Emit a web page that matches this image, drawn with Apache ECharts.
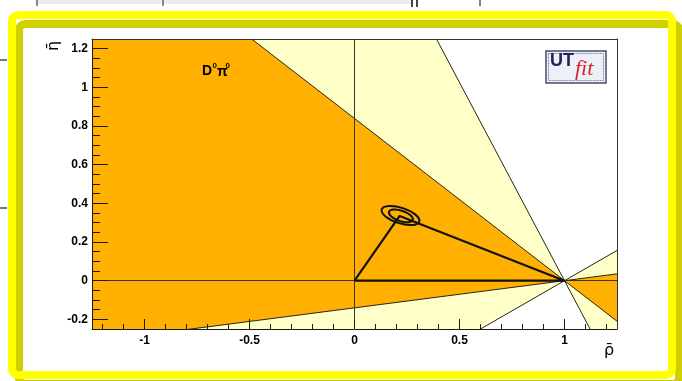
<!DOCTYPE html>
<html>
<head>
<meta charset="utf-8">
<script src="https://cdn.jsdelivr.net/npm/echarts@6/dist/echarts.min.js"></script>
<style>
  html, body { margin: 0; padding: 0; background: #ffffff; }
  #chart { width: 682px; height: 381px; }
</style>
</head>
<body>
<div id="chart"></div>
<script>
// D0 pi0 constraint on the (rho-bar, eta-bar) plane.
// The allowed regions are double cones through the point (1, 0);
// angles are in degrees, measured from the negative rho-bar direction.
const conePoint = [1, 0];
const betaRangeWide = [-32, 64];   // outer (light) region
const betaRangeCore = [-8, 40];    // inner (orange) region

// Unitarity triangle: (0,0) -> (1,0) -> apex -> (0,0)
const triangleRho = [0, 1, 0.215, 0];
const triangleEta = [0, 0, 0.335, 0];

// Fit contours around the apex (centre, semi-axes, tilt in degrees)
const contourRho = [0.219, 0.221];
const contourEta = [0.337, 0.335];
const contourSemiMajor = [0.094, 0.060];
const contourSemiMinor = [0.040, 0.027];
const contourTilt = [-18, -19];

// Axis ranges and tick labels
const rhoRange = [-1.25, 1.25];
const etaRange = [-0.25, 1.25];
const rhoTicks = [-1, -0.5, 0, 0.5, 1];
const etaTicks = [-0.2, 0, 0.2, 0.4, 0.6, 0.8, 1, 1.2];
const rhoMinorStep = 0.1;
const etaMinorStep = 0.05;

const COLOR_CORE = '#ffb000';
const COLOR_WIDE = '#ffffc8';

function stepsBetween(lo, hi, step) {
  const out = [];
  const n0 = Math.ceil(lo / step - 1e-9), n1 = Math.floor(hi / step + 1e-9);
  for (let i = n0; i <= n1; i++) out.push(+(i * step).toFixed(4));
  return out.filter(v => v > lo + 1e-9 && v < hi - 1e-9);
}
const rhoMinor = stepsBetween(rhoRange[0], rhoRange[1], rhoMinorStep);
const etaMinor = stepsBetween(etaRange[0], etaRange[1], etaMinorStep);

const labelFont = { fontFamily: 'Liberation Sans', fontWeight: 'bold', fontSize: 12, color: '#000' };

function rayPoint(api, x0, y0, deg, sign) {
  const a = deg * Math.PI / 180, L = 12;
  return api.coord([x0 - sign * L * Math.cos(a), y0 + sign * L * Math.sin(a)]);
}

function coneSeries(name, range, color, z) {
  return {
    name, type: 'custom', coordinateSystem: 'cartesian2d', clip: true, z, silent: true,
    data: [[conePoint[0], conePoint[1], range[0], range[1]]],
    renderItem(params, api) {
      const x0 = api.value(0), y0 = api.value(1), a = api.value(2), b = api.value(3);
      const c = api.coord([x0, y0]);
      return {
        type: 'group',
        children: [
          { type: 'polygon', shape: { points: [c, rayPoint(api, x0, y0, a, 1), rayPoint(api, x0, y0, b, 1)] }, style: { fill: color } },
          { type: 'polygon', shape: { points: [c, rayPoint(api, x0, y0, a, -1), rayPoint(api, x0, y0, b, -1)] }, style: { fill: color } }
        ]
      };
    }
  };
}

const boundaryAngles = [betaRangeWide[0], betaRangeWide[1], betaRangeCore[0], betaRangeCore[1]];

const chart = echarts.init(document.getElementById('chart'), null, { renderer: 'canvas' });

const valueAxisBase = (range, pos) => ({
  type: 'value', min: range[0], max: range[1], position: pos, z: 10,
  splitLine: { show: false }, axisLine: { show: false, onZero: false },
  axisTick: { show: false }, axisLabel: { show: false }
});

const tickStyle = { color: '#1a1a1a', width: 1 };

chart.setOption({
  animation: false,
  backgroundColor: '#ffffff',
  grid: { left: 92, right: 65, top: 39, bottom: 52, containLabel: false },
  xAxis: [
    Object.assign(valueAxisBase(rhoRange, 'bottom'), {
      axisLine: { show: true, onZero: false, lineStyle: { color: '#1a1a1a', width: 1 } },
      axisTick: { show: true, inside: true, length: 10, customValues: rhoTicks, lineStyle: tickStyle },
      axisLabel: Object.assign({ show: true, margin: 6, customValues: rhoTicks }, labelFont)
    }),
    Object.assign(valueAxisBase(rhoRange, 'bottom'), {
      axisTick: { show: true, inside: true, length: 5, customValues: rhoMinor, lineStyle: tickStyle }
    }),
    Object.assign(valueAxisBase(rhoRange, 'top'), {
      axisLine: { show: true, onZero: false, lineStyle: { color: '#333', width: 1 } }
    })
  ],
  yAxis: [
    Object.assign(valueAxisBase(etaRange, 'left'), {
      axisLine: { show: true, onZero: false, lineStyle: { color: '#1a1a1a', width: 1 } },
      axisTick: { show: true, inside: true, length: 16, customValues: etaTicks, lineStyle: tickStyle },
      axisLabel: Object.assign({ show: true, margin: 4, customValues: etaTicks }, labelFont)
    }),
    Object.assign(valueAxisBase(etaRange, 'left'), {
      axisTick: { show: true, inside: true, length: 8, customValues: etaMinor, lineStyle: tickStyle }
    }),
    Object.assign(valueAxisBase(etaRange, 'right'), {
      axisLine: { show: true, onZero: false, lineStyle: { color: '#333', width: 1 } }
    })
  ],
  series: [
    coneSeries('wide', betaRangeWide, COLOR_WIDE, 1),
    coneSeries('core', betaRangeCore, COLOR_CORE, 2),
    {
      name: 'edges', type: 'custom', coordinateSystem: 'cartesian2d', clip: true, z: 3, silent: true,
      data: boundaryAngles.map(a => [conePoint[0], conePoint[1], a]),
      renderItem(params, api) {
        const x0 = api.value(0), y0 = api.value(1), a = api.value(2);
        const p1 = rayPoint(api, x0, y0, a, 1), p2 = rayPoint(api, x0, y0, a, -1);
        return { type: 'line', shape: { x1: p1[0], y1: p1[1], x2: p2[0], y2: p2[1] }, style: { stroke: '#2a2418', lineWidth: 1 } };
      }
    },
    {
      name: 'axes', type: 'line', data: [], z: 4, silent: true,
      markLine: {
        silent: true, symbol: 'none', label: { show: false },
        lineStyle: { color: '#3a3428', width: 1, type: 'solid' },
        data: [{ xAxis: 0 }, { yAxis: 0 }]
      }
    },
    {
      name: 'triangle', type: 'line', z: 5, silent: true,
      data: triangleRho.map((r, i) => [r, triangleEta[i]]),
      symbol: 'none', lineStyle: { color: '#111', width: 2.2 }
    },
    {
      name: 'contours', type: 'custom', coordinateSystem: 'cartesian2d', clip: true, z: 6, silent: true,
      data: contourRho.map((r, i) => [r, contourEta[i], contourSemiMajor[i], contourSemiMinor[i], contourTilt[i]]),
      renderItem(params, api) {
        const c = api.coord([api.value(0), api.value(1)]);
        const s = api.size([api.value(2), api.value(3)]);
        const rx = s[0], ry = s[1];
        return {
          type: 'path', x: c[0], y: c[1], rotation: api.value(4) * Math.PI / 180,
          shape: { pathData: 'M ' + (-rx) + ' 0 A ' + rx + ' ' + ry + ' 0 1 0 ' + rx + ' 0 A ' + rx + ' ' + ry + ' 0 1 0 ' + (-rx) + ' 0 Z' },
          style: { fill: 'none', stroke: '#111', lineWidth: 2 }
        };
      }
    }
  ],
  graphic: [
    // slide remnants along the edges
    { type: 'rect', z: -10, shape: { x: 35, y: 0, width: 376, height: 4 }, style: { fill: '#ececec' } },
    { type: 'line', z: -9, shape: { x1: 37, y1: 0, x2: 37, y2: 6 }, style: { stroke: '#666', lineWidth: 1.5 } },
    { type: 'line', z: -9, shape: { x1: 163, y1: 0, x2: 163, y2: 6 }, style: { stroke: '#666', lineWidth: 1.5 } },
    { type: 'line', z: -9, shape: { x1: 412, y1: 0, x2: 412, y2: 7 }, style: { stroke: '#444', lineWidth: 2 } },
    { type: 'line', z: -9, shape: { x1: 417, y1: 0, x2: 417, y2: 7 }, style: { stroke: '#444', lineWidth: 2 } },
    { type: 'line', z: -9, shape: { x1: 480, y1: 0, x2: 480, y2: 6 }, style: { stroke: '#555', lineWidth: 1.5 } },
    { type: 'line', z: -9, shape: { x1: 0, y1: 60, x2: 7, y2: 60 }, style: { stroke: '#777', lineWidth: 2 } },
    { type: 'line', z: -9, shape: { x1: 0, y1: 208, x2: 7, y2: 208 }, style: { stroke: '#777', lineWidth: 2 } },
    // highlighted frame
    { type: 'rect', z: -5, shape: { x: 19, y: 24, width: 660, height: 360, r: 6 }, style: { fill: 'none', stroke: '#d0d000', lineWidth: 8 } },
    { type: 'rect', z: -4, shape: { x: 12, y: 15, width: 660, height: 360, r: 6 }, style: { fill: 'none', stroke: '#ffff00', lineWidth: 8 } },
    // axis titles
    { type: 'text', z: 20, x: 54, y: 46, rotation: Math.PI / 2,
      style: { text: '\u03b7\u0304', font: '16px "DejaVu Sans"', fill: '#000', textAlign: 'center', verticalAlign: 'middle', textVerticalAlign: 'middle' } },
    { type: 'text', z: 20, x: 609, y: 351,
      style: { text: '\u03c1\u0304', font: '16px "DejaVu Sans"', fill: '#000', textAlign: 'center', verticalAlign: 'middle', textVerticalAlign: 'middle' } },
    // channel label
    { type: 'text', z: 20, x: 202, y: 71, style: { text: 'D', font: 'bold 14px "Liberation Sans"', fill: '#000', textAlign: 'left', verticalAlign: 'middle', textVerticalAlign: 'middle' } },
    { type: 'text', z: 20, x: 212.5, y: 66, style: { text: '0', font: 'bold 8px "Liberation Sans"', fill: '#000', textAlign: 'left', verticalAlign: 'middle', textVerticalAlign: 'middle' } },
    { type: 'text', z: 20, x: 217, y: 72, style: { text: '\u03c0', font: 'bold 14px "Liberation Sans"', fill: '#000', textAlign: 'left', verticalAlign: 'middle', textVerticalAlign: 'middle' } },
    { type: 'text', z: 20, x: 225.5, y: 66, style: { text: '0', font: 'bold 8px "Liberation Sans"', fill: '#000', textAlign: 'left', verticalAlign: 'middle', textVerticalAlign: 'middle' } },
    // UTfit badge
    { type: 'rect', z: 20, shape: { x: 546, y: 51, width: 60, height: 32 }, style: { fill: '#eef0f8', stroke: '#4a4a6a', lineWidth: 1.5 } },
    { type: 'rect', z: 20, shape: { x: 548.5, y: 53.5, width: 55, height: 27 }, style: { fill: 'none', stroke: '#8888aa', lineWidth: 1, lineDash: [2, 1] } },
    { type: 'text', z: 21, x: 550, y: 61, style: { text: 'UT', font: 'bold 18px "Liberation Sans"', fill: '#22225e', textAlign: 'left', verticalAlign: 'middle', textVerticalAlign: 'middle' } },
    { type: 'text', z: 21, x: 575, y: 69, style: { text: 'fit', font: 'italic 22px "Liberation Serif"', fill: '#d8202e', textAlign: 'left', verticalAlign: 'middle', textVerticalAlign: 'middle' } }
  ]
});
</script>
</body>
</html>
